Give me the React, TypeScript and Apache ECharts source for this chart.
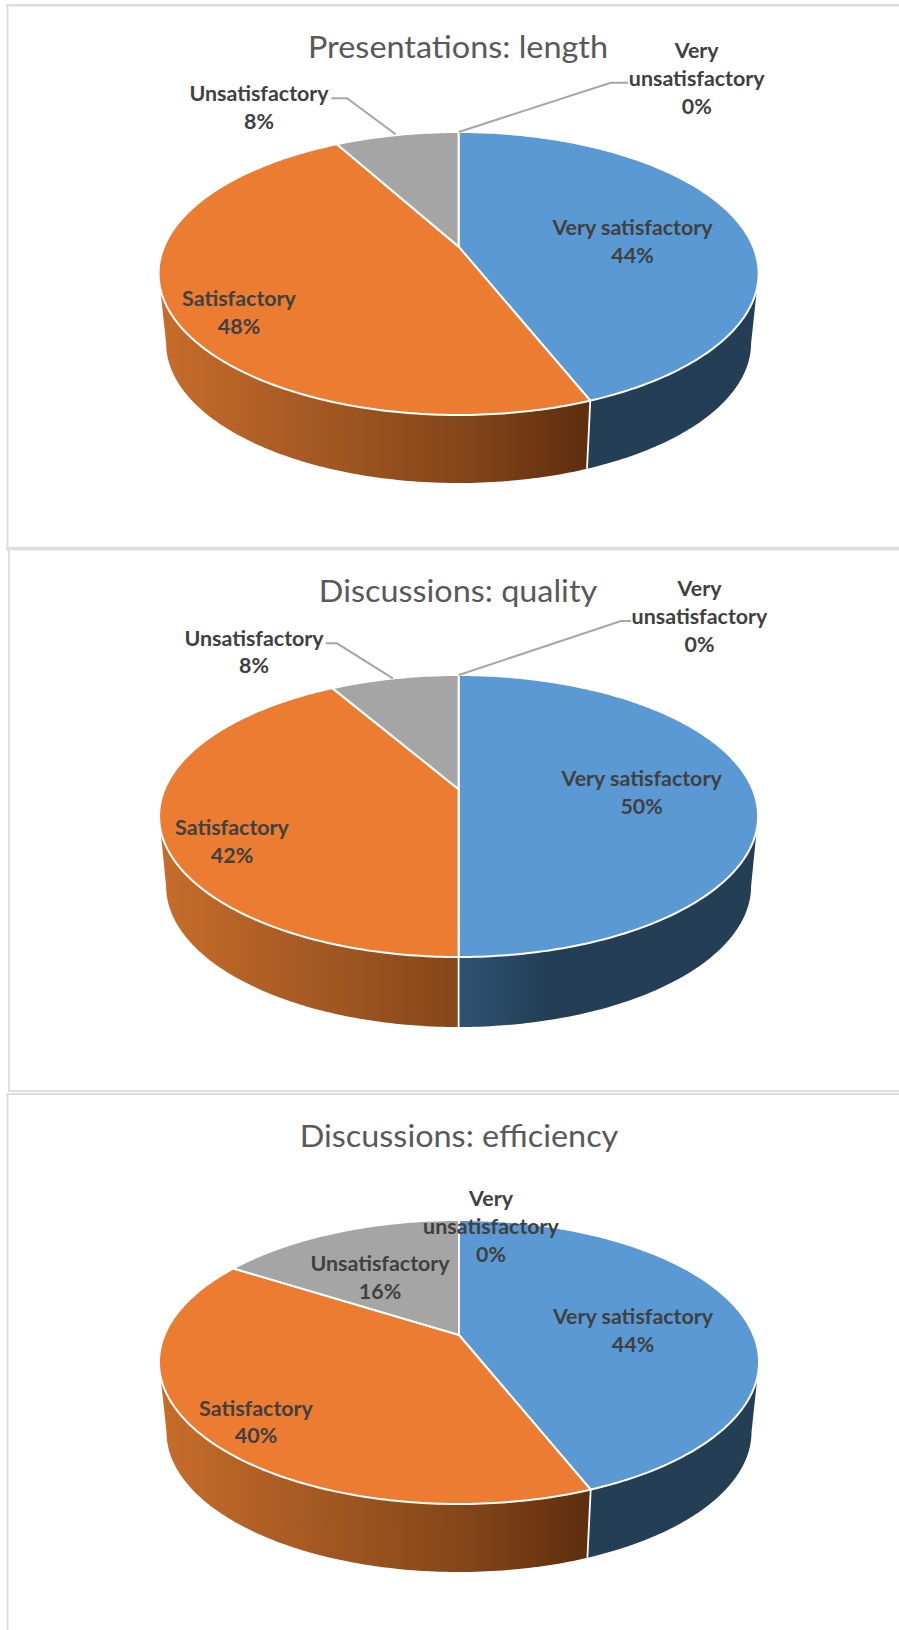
import React, { useEffect, useRef } from "react";
import * as echarts from "echarts";

const categories = ["Very satisfactory", "Satisfactory", "Unsatisfactory", "Very unsatisfactory"];
const categoryLines = ["Very satisfactory", "Satisfactory", "Unsatisfactory", "Very\nunsatisfactory"];
// Response counts: slice sizes fit these better than the rounded labels do.
const presentationsLength = [11, 12, 2, 0];
const discussionsQuality = [12, 10, 2, 0];
const discussionsEfficiency = [11, 10, 4, 0];
const titles = ["Presentations: length", "Discussions: quality", "Discussions: efficiency"];

const W = 899;
const H = 1630;
const FONT = "Lato, 'Noto Sans', sans-serif";
const LABEL_FILL = "#404040";
const TITLE_FILL = "#595959";
const LINE_FILL = "#A6A6A6";
const TOP_COLORS = ["#5B99D5", "#EB7C31", "#A5A5A5", "#FFC000"];

// Geometry of each tilted pie (perspective projection of a circle).
const PERSPECTIVE = -0.19;
const SIDE_RX = 292.5;
const TANGENT_L = (259 / 180) * Math.PI;
const TANGENT_R = (101 / 180) * Math.PI;

const pies = [
  {
    values: presentationsLength,
    cx: 458.6, cy: 273.5, rx: 300, ry: 141.5, side: { cy: 343, ry: 140 },
    titleXY: [458, 46],
    labels: [[632.5, 241], [239, 312], [259, 107], [696.7, 78]],
    leaders: [null, null, [[395.6, 134.3], [347, 98.3], [331.4, 98.3]], [[458.7, 132], [610.7, 82.7], [628, 82.7]]],
  },
  {
    values: discussionsQuality,
    cx: 458.6, cy: 816, rx: 299.5, ry: 141, side: { cy: 886, ry: 141 },
    titleXY: [458, 590],
    labels: [[641.6, 792], [232, 841], [254, 651.5], [699.5, 616]],
    leaders: [null, null, [[392.8, 678.3], [337, 643.3], [325.7, 643.3]], [[458.7, 675], [621, 621], [631, 621]]],
  },
  {
    values: discussionsEfficiency,
    cx: 459, cy: 1362, rx: 300, ry: 142, side: { cy: 1432, ry: 140 },
    titleXY: [459, 1135],
    labels: [[633, 1330], [256, 1421.5], [380, 1277], [491, 1226]],
    leaders: [null, null, null, null],
  },
];

function project(theta: number, cx: number, cy: number, rx: number, ry: number) {
  const X = Math.sin(theta);
  const Y = -Math.cos(theta);
  const p = PERSPECTIVE;
  const d = 1 + p * Y;
  return [cx + (rx * Math.sqrt(1 - p * p) * X) / d, cy + (ry * (Y + p)) / d];
}

function arc(a: number, b: number, cx: number, cy: number, rx: number, ry: number) {
  const n = Math.max(2, Math.ceil((b - a) / 0.015));
  const pts: number[][] = [];
  for (let i = 0; i <= n; i++) pts.push(project(a + ((b - a) * i) / n, cx, cy, rx, ry));
  return pts;
}

function sideFill(i: number, cx: number) {
  if (i === 0) {
    return {
      type: "linear", global: true, x: cx, y: 0, x2: cx + 90, y2: 0,
      colorStops: [{ offset: 0, color: "#2F5372" }, { offset: 1, color: "#233E55" }],
    };
  }
  return {
    type: "linear", global: true, x: cx - 300, y: 0, x2: cx + 130, y2: 0,
    colorStops: [{ offset: 0, color: "#C76D2B" }, { offset: 0.7, color: "#85461A" }, { offset: 1, color: "#5E2E0E" }],
  };
}

function makeRender(pieIndex: number) {
  const pie = pies[pieIndex];
  const total = pie.values.reduce((s, v) => s + v, 0);
  return (params: any, api: any) => {
    const i = params.dataIndex;
    const value = api.value(0) as number;
    let before = 0;
    for (let k = 0; k < i; k++) before += pie.values[k];
    const a = (before / total) * Math.PI * 2;
    const b = ((before + value) / total) * Math.PI * 2;
    const children: any[] = [];

    // visible side wall
    const s = Math.max(a, TANGENT_R);
    const e = Math.min(b, TANGENT_L);
    if (e > s) {
      const t = arc(s, e, pie.cx, pie.cy, pie.rx, pie.ry);
      const bt = arc(s, e, pie.cx, pie.side.cy, SIDE_RX, pie.side.ry).reverse();
      children.push({
        type: "polygon", z2: 1, shape: { points: t.concat(bt) },
        style: { fill: sideFill(i, pie.cx) },
      });
      if (a >= TANGENT_R) {
        children.push({
          type: "polyline", z2: 2,
          shape: { points: [project(a, pie.cx, pie.cy, pie.rx, pie.ry), project(a, pie.cx, pie.side.cy, SIDE_RX, pie.side.ry)] },
          style: { stroke: "#FFFFFF", lineWidth: 1.8, fill: "none" },
        });
      }
    }

    // top face
    if (value > 0) {
      const centre = [pie.cx, pie.cy + pie.ry * PERSPECTIVE];
      children.push({
        type: "polygon", z2: 3,
        shape: { points: [centre].concat(arc(a, b, pie.cx, pie.cy, pie.rx, pie.ry)) },
        style: { fill: TOP_COLORS[i], stroke: "#FFFFFF", lineWidth: 2, lineJoin: "round" },
      });
    }

    // leader
    const leader = pie.leaders[i];
    if (leader) {
      children.push({
        type: "polyline", z2: 4, shape: { points: leader },
        style: { stroke: LINE_FILL, lineWidth: 2, fill: "none" },
      });
    }

    // label
    const [lx, ly] = pie.labels[i];
    children.push({
      type: "text", z2: 5, x: lx, y: ly, scaleX: 1.02, scaleY: 1,
      style: {
        text: `${categoryLines[i]}\n${Math.round((value / total) * 100)}%`,
        font: `bold 21px ${FONT}`,
        lineHeight: 27.7,
        fill: LABEL_FILL,
        align: "center",
        verticalAlign: "middle",
      },
    });
    return { type: "group", children };
  };
}

export default function App() {
  const ref = useRef<HTMLDivElement>(null);
  useEffect(() => {
    const chart = echarts.init(ref.current!, null, { renderer: "svg" });
    const borderRect = (x: number, y: number, w: number, h: number) => ({
      type: "rect", shape: { x, y, width: w, height: h }, style: { fill: "#DEDEDE" }, silent: true,
    });
    chart.setOption({
      animation: false,
      backgroundColor: "#FFFFFF",
      graphic: [
        borderRect(6.5, 4, W - 6.5, 2.5),
        borderRect(6.5, 4, 2, 544),
        borderRect(6.5, 546.8, W - 6.5, 3.6),
        borderRect(8, 548, 2, 544),
        borderRect(8, 1090, W - 8, 2),
        borderRect(6.5, 1093, W - 6.5, 2),
        borderRect(6.5, 1093, 2, H - 1093),
        ...pies.map((p, i) => ({
          type: "text", x: p.titleXY[0], y: p.titleXY[1], scaleX: 1.08, scaleY: 1, silent: true,
          style: {
            text: titles[i], font: `30px ${FONT}`, fill: TITLE_FILL, align: "center", verticalAlign: "middle",
          },
        })),
      ],
      series: pies.map((p, i) => ({
        type: "custom",
        name: titles[i],
        coordinateSystem: "none",
        silent: true,
        data: categories.map((name, k) => ({ name, value: p.values[k] })),
        renderItem: makeRender(i),
      })),
    });
    return () => chart.dispose();
  }, []);
  return <div ref={ref} style={{ position: "fixed", left: 0, top: 0, width: W, height: H }} />;
}
